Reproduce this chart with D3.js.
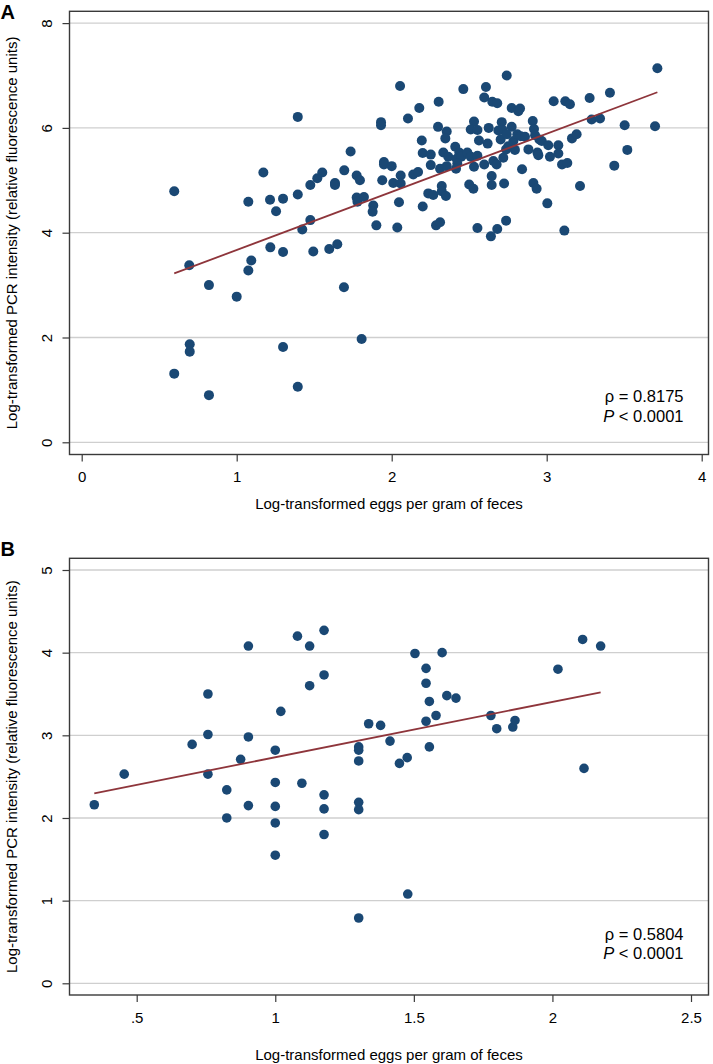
<!DOCTYPE html>
<html>
<head>
<meta charset="utf-8">
<script src="https://cdn.jsdelivr.net/npm/d3@7"></script>
<style>
  html, body { margin: 0; padding: 0; background: #fff; }
  svg { display: block; }
  text { font-family: "Liberation Sans", Arial, Helvetica, sans-serif; fill: #000; }
</style>
</head>
<body>
<svg id="chart" width="713" height="1064"></svg>
<script>
// ---------- Panel A data ----------
const aX = [0.597,1.394,1.931,1.931,1.735,1.172,1.95,1.95,2.0,1.694,1.552,1.520,1.774,1.795,1.939,1.634,1.634,1.475,1.394,1.075,
  1.215,1.299,1.254,1.774,1.779,1.821,1.881,1.877,1.901,1.475,1.423,1.217,1.299,1.494,1.597,1.649,0.694,1.094,1.075,
  0.821,1.0,1.692,0.697,0.697,0.597,0.821,1.299,1.394,1.806,
  3.714,2.742,2.054,2.462,2.608,3.408,2.597,2.649,2.681,2.303,2.178,2.774,2.817,2.828,3.045,3.12,3.15,3.277,2.105,2.299,
  2.355,2.346,2.194,2.2,2.252,2.252,2.01,2.058,2.058,2.139,2.17,2.047,2.2,2.036,2.286,2.312,2.236,2.268,2.323,2.323,
  2.35,2.312,2.355,2.333,2.365,2.41,2.436,2.419,2.449,2.423,2.415,2.488,2.51,2.531,2.51,2.553,2.626,2.563,2.619,2.553,
  2.531,2.597,2.656,2.677,2.5,2.527,2.553,2.645,2.645,2.64,2.681,2.738,2.725,2.72,2.738,2.752,2.703,2.688,2.71,2.716,
  2.774,2.742,2.785,2.795,2.81,2.832,2.86,2.882,2.841,2.91,2.918,2.925,2.953,2.968,2.94,2.946,2.914,2.935,3.004,3.01,
  3.075,3.021,3.075,3.099,3.133,3.114,3.215,3.163,3.193,3.29,3.344,3.436,3.52,3.503,3.699];
const aY = [4.79,6.21,6.11,6.05,5.55,5.15,5.35,5.30,5.27,5.19,5.15,5.04,5.09,5.00,5.00,4.95,4.91,4.91,4.73,4.59,
  4.63,4.65,4.41,4.67,4.59,4.68,4.52,4.40,4.14,4.24,4.06,3.72,3.63,3.64,3.69,3.78,3.38,3.47,3.28,
  3.00,2.78,2.96,1.87,1.73,1.31,0.90,1.82,1.06,1.97,
  7.14,7.00,6.80,6.74,6.78,6.67,6.58,6.50,6.47,6.50,6.38,6.38,6.32,6.37,6.51,6.51,6.45,6.57,6.18,6.02,
  5.93,5.80,5.76,5.52,5.49,5.29,4.95,5.09,4.94,5.11,5.16,4.58,4.50,4.10,4.14,4.20,4.75,4.72,4.89,4.79,
  4.70,5.22,5.27,5.53,5.45,5.64,5.53,5.41,5.45,5.32,5.22,5.53,5.45,6.12,5.97,5.96,6.00,5.76,5.70,5.47,
  5.26,5.30,5.37,5.30,4.92,4.84,4.09,5.08,4.91,3.93,4.07,4.23,4.94,5.43,5.59,5.65,5.78,5.95,6.11,5.96,
  6.02,5.88,5.75,5.58,5.88,5.84,5.83,5.59,5.21,6.13,5.98,5.86,5.78,5.75,5.53,5.48,4.95,4.84,4.56,5.67,
  5.67,5.45,5.51,5.30,5.33,4.04,4.89,5.80,5.88,6.16,6.18,5.28,5.58,6.05,6.03];
const aFit = [2.561, 1.109];          // intercept, slope
const aXTicks = [0, 1, 2, 3, 4];
const aXTickLabels = ["0", "1", "2", "3", "4"];
const aYTicks = [0, 2, 4, 6, 8];
const aYTickLabels = ["0", "2", "4", "6", "8"];
const aStats = ["ρ = 0.8175", "0.0001"];

// ---------- Panel B data ----------
const bX = [0.347,0.455,0.70,0.757,0.757,0.757,0.825,0.825,0.875,0.903,0.903,0.903,1.0,1.0,1.0,1.0,1.0,1.02,1.08,1.096,
  1.124,1.124,1.176,1.176,1.176,1.176,1.176,1.301,1.301,1.301,1.301,1.301,1.301,1.337,1.38,1.414,1.448,1.476,1.478,1.504,
  1.544,1.544,1.556,1.544,1.580,1.556,1.602,1.619,1.652,1.778,1.799,1.857,1.865,2.02,2.109,2.174,2.114];
const bY = [2.16,2.53,2.89,3.50,3.01,2.53,2.34,2.00,2.71,4.08,2.98,2.15,2.82,2.43,2.14,1.94,1.55,3.29,4.20,2.42,
  4.08,3.60,4.27,3.73,2.28,2.11,1.80,2.86,2.82,2.69,2.19,2.10,0.79,3.14,3.12,2.93,2.66,2.73,1.08,3.99,
  3.81,3.63,3.41,3.17,3.24,2.86,4.00,3.48,3.45,3.24,3.08,3.10,3.18,3.80,4.16,4.08,2.60];
const bFit = [2.066, 0.669];
const bXTicks = [0.5, 1, 1.5, 2, 2.5];
const bXTickLabels = [".5", "1", "1.5", "2", "2.5"];
const bYTicks = [0, 1, 2, 3, 4, 5];
const bYTickLabels = ["0", "1", "2", "3", "4", "5"];
const bStats = ["ρ = 0.5804", "0.0001"];

const xTitle = "Log-transformed eggs per gram of feces";
const yTitle = "Log-transformed PCR intensity (relative fluorescence units)";

// ---------- drawing ----------
const svg = d3.select("#chart");
const DOT = "#1a4874", LINE = "#8e353b", GRID = "#cfcfcf", FRAME = "#3a3a3a";

function panel(o) {
  const g = svg.append("g");
  const L = 69.5, R = 708.5;
  const x = d3.scaleLinear().domain(o.xDom).range(o.xRange);
  const y = d3.scaleLinear().domain(o.yDom).range(o.yRange);

  // gridlines
  g.append("g").selectAll("line").data(o.yTicks).join("line")
    .attr("x1", L).attr("x2", R).attr("y1", d => y(d)).attr("y2", d => y(d))
    .attr("stroke", GRID).attr("stroke-width", 1.3);

  // axes
  const yAxis = d3.axisLeft(y).tickValues(o.yTicks).tickSize(7).tickFormat((d, i) => o.yLabels[i]);
  const ya = g.append("g").attr("transform", `translate(${L},0)`).call(yAxis);
  ya.select(".domain").remove();
  ya.selectAll(".tick line").attr("stroke", FRAME).attr("stroke-width", 1.2);
  ya.selectAll(".tick text").attr("font-size", 15).attr("x", 0).attr("y", 0)
    .attr("transform", "translate(-23,0) rotate(-90)")
    .attr("text-anchor", "middle").attr("dy", "0.35em").attr("fill", "#000");

  const xAxis = d3.axisBottom(x).tickValues(o.xTicks).tickSize(7).tickFormat((d, i) => o.xLabels[i]);
  const xa = g.append("g").attr("transform", `translate(0,${o.bottom})`).call(xAxis);
  xa.select(".domain").remove();
  xa.selectAll(".tick line").attr("stroke", FRAME).attr("stroke-width", 1.2);
  xa.selectAll(".tick text").attr("font-size", 15).attr("y", o.tickOff).attr("dy", "0.35em").attr("fill", "#000");

  // frame
  g.append("rect").attr("x", L).attr("y", o.top).attr("width", R - L).attr("height", o.bottom - o.top)
    .attr("fill", "none").attr("stroke", FRAME).attr("stroke-width", 1.4);

  // points
  g.append("g").selectAll("circle").data(o.xs.map((v, i) => [v, o.ys[i]])).join("circle")
    .attr("cx", d => x(d[0])).attr("cy", d => y(d[1])).attr("r", o.r).attr("fill", DOT);

  // fit line
  const x0 = d3.min(o.xs), x1 = d3.max(o.xs);
  g.append("line")
    .attr("x1", x(x0)).attr("y1", y(o.fit[0] + o.fit[1] * x0))
    .attr("x2", x(x1)).attr("y2", y(o.fit[0] + o.fit[1] * x1))
    .attr("stroke", LINE).attr("stroke-width", 1.8);

  // stats
  const st = g.append("g").attr("font-size", 16.5).attr("text-anchor", "end");
  st.append("text").attr("x", 683.5).attr("y", o.statY).text(o.stats[0]);
  const p = st.append("text").attr("x", 683.5).attr("y", o.statY + 19.3);
  p.append("tspan").attr("font-style", "italic").text("P");
  p.append("tspan").text(" < " + o.stats[1]);

  // titles
  g.append("text").attr("x", (L + R) / 2).attr("y", o.bottom + o.titleOff).attr("dy", "0.35em")
    .attr("text-anchor", "middle").attr("font-size", 15).text(xTitle);
  g.append("text").attr("transform", `translate(12,${(o.top + o.bottom) / 2}) rotate(-90)`)
    .attr("text-anchor", "middle").attr("dy", "0.35em").attr("font-size", 15).text(yTitle);

  // panel letter
  g.append("text").attr("x", 0.5).attr("y", o.letterY).attr("font-size", 20).attr("font-weight", "bold").text(o.letter);
}

panel({
  xs: aX, ys: aY, fit: aFit, xTicks: aXTicks, xLabels: aXTickLabels, yTicks: aYTicks, yLabels: aYTickLabels,
  xDom: [0, 4], xRange: [81.7, 701.7], yDom: [0, 8], yRange: [442.3, 23.1],
  top: 11.3, bottom: 454.5, r: 5, statY: 402.3, stats: aStats, letter: "A", letterY: 19,
  tickOff: 22, titleOff: 49
});
panel({
  xs: bX, ys: bY, fit: bFit, xTicks: bXTicks, xLabels: bXTickLabels, yTicks: bYTicks, yLabels: bYTickLabels,
  xDom: [0.5, 2.5], xRange: [136.7, 691], yDom: [0, 5], yRange: [983.3, 570],
  top: 558.3, bottom: 995, r: 4.8, statY: 939.6, stats: bStats, letter: "B", letterY: 556,
  tickOff: 22.5, titleOff: 60
});
</script>
</body>
</html>
